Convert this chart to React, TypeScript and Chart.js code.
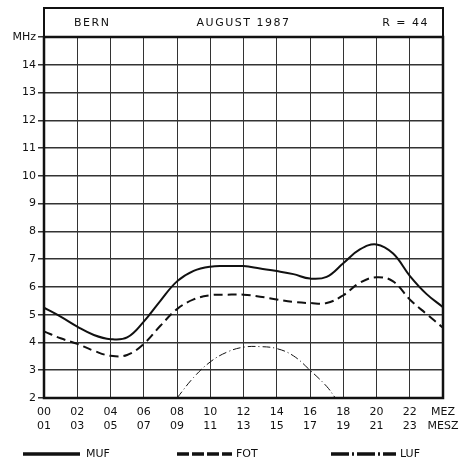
import React, { useEffect, useRef } from "react";
import { Chart, registerables } from "chart.js";

Chart.register(...registerables);

// ---- data ----
const HOURS = [0, 1, 2, 3, 4, 5, 6, 7, 8, 9, 10, 11, 12, 13, 14, 15, 16, 17, 18, 19, 20, 21, 22, 23, 24];
const MUF = [5.25, 4.93, 4.57, 4.27, 4.12, 4.18, 4.75, 5.5, 6.2, 6.58, 6.73, 6.75, 6.75, 6.66, 6.57, 6.46, 6.3, 6.36, 6.85, 7.35, 7.53, 7.2, 6.4, 5.75, 5.27];
const FOT = [4.4, 4.15, 3.95, 3.7, 3.52, 3.55, 3.95, 4.6, 5.2, 5.55, 5.7, 5.72, 5.72, 5.65, 5.55, 5.46, 5.42, 5.42, 5.7, 6.15, 6.35, 6.2, 5.55, 5.03, 4.53];
const LUF_HOURS = [8, 9, 10, 11, 12, 13, 14, 15, 16, 17, 17.5];
const LUF = [2.0, 2.74, 3.3, 3.65, 3.83, 3.85, 3.78, 3.52, 3.0, 2.42, 2.02];
const MEZ_LABELS = ["00", "02", "04", "06", "08", "10", "12", "14", "16", "18", "20", "22", "MEZ"];
const MESZ_LABELS = ["01", "03", "05", "07", "09", "11", "13", "15", "17", "19", "21", "23", "MESZ"];
const Y_UNIT = "MHz";
const TITLE_LEFT = "BERN";
const TITLE_CENTER = "AUGUST 1987";
const TITLE_RIGHT = "R = 44";
const SERIES_NAMES = ["MUF", "FOT", "LUF"];

const INK = "#111";
const FONT = '"DejaVu Sans", "Liberation Sans", sans-serif';

const decorPlugin = {
  id: "decor",
  afterDraw(chart: any) {
    const { ctx, chartArea } = chart;
    const { left, right, top, bottom } = chartArea;
    ctx.save();
    ctx.strokeStyle = INK;
    ctx.lineWidth = 2.5;
    // frame of plot
    ctx.strokeRect(left, top, right - left, bottom - top);
    // title box
    ctx.lineWidth = 2;
    ctx.strokeRect(left, 8, right - left, top - 8);
    ctx.fillStyle = INK;
    ctx.font = "11px " + FONT;
    (ctx as any).letterSpacing = "1.5px";
    ctx.textBaseline = "middle";
    const ty = (8 + top) / 2 + 1;
    ctx.textAlign = "left";
    ctx.fillText(TITLE_LEFT, left + 30, ty);
    ctx.textAlign = "center";
    ctx.fillText(TITLE_CENTER, (left + right) / 2, ty);
    ctx.textAlign = "right";
    ctx.fillText(TITLE_RIGHT, right - 14, ty);
    (ctx as any).letterSpacing = "0px";

    // legend
    const ly = 454;
    ctx.lineWidth = 3.5;
    ctx.textAlign = "left";
    const items = [
      { x0: 23, x1: 80, dash: [] as number[], tx: 86 },
      { x0: 177, x1: 232, dash: [12, 3], tx: 236 },
      { x0: 331, x1: 396, dash: [18, 3, 2, 3], tx: 400 },
    ];
    items.forEach((it, i) => {
      ctx.setLineDash(it.dash);
      ctx.beginPath();
      ctx.moveTo(it.x0, ly);
      ctx.lineTo(it.x1, ly);
      ctx.stroke();
      ctx.setLineDash([]);
      ctx.fillText(SERIES_NAMES[i], it.tx, ly);
    });
    ctx.restore();
  },
};

export default function App() {
  const ref = useRef<HTMLCanvasElement | null>(null);
  useEffect(() => {
    if (!ref.current) return;
    const chart = new Chart(ref.current, {
      type: "line",
      data: {
        datasets: [
          {
            label: SERIES_NAMES[0],
            data: HOURS.map((h, i) => ({ x: h, y: MUF[i] })),
            borderColor: INK,
            borderWidth: 2,
            pointRadius: 0,
            tension: 0.4,
            fill: false,
          },
          {
            label: SERIES_NAMES[1],
            data: HOURS.map((h, i) => ({ x: h, y: FOT[i] })),
            borderColor: INK,
            borderWidth: 2,
            borderDash: [9, 5],
            pointRadius: 0,
            tension: 0.4,
            fill: false,
          },
          {
            label: SERIES_NAMES[2],
            data: LUF_HOURS.map((h, i) => ({ x: h, y: LUF[i] })),
            borderColor: INK,
            borderWidth: 1,
            borderDash: [8, 3, 1, 3],
            pointRadius: 0,
            tension: 0.4,
            fill: false,
          },
        ],
      },
      options: {
        responsive: false,
        animation: false,
        devicePixelRatio: 1,
        layout: { padding: { top: 37, right: 30, left: 0, bottom: 0 } },
        plugins: {
          legend: { display: false },
          tooltip: { enabled: false },
        },
        scales: {
          x: {
            type: "linear",
            min: 0,
            max: 24,
            afterFit: (s: any) => {
              s.height = 64;
            },
            ticks: {
              stepSize: 2,
              autoSkip: false,
              maxRotation: 0,
              padding: 7,
              color: INK,
              font: { family: FONT, size: 11, lineHeight: 1.3 },
              callback: (v: any) => {
                const i = Math.round(Number(v) / 2);
                return [MEZ_LABELS[i], MESZ_LABELS[i]];
              },
            },
            grid: { color: "#333", lineWidth: 1, drawTicks: false },
            border: { display: false },
          },
          y: {
            type: "linear",
            min: 2,
            max: 15,
            afterFit: (s: any) => {
              s.width = 44;
            },
            ticks: {
              stepSize: 1,
              padding: 2,
              color: INK,
              font: { family: FONT, size: 11 },
              callback: (v: any) => (Number(v) === 15 ? Y_UNIT : String(v)),
            },
            grid: { color: "#333", lineWidth: 1.5, tickLength: 6 },
            border: { display: false },
          },
        },
      },
      plugins: [decorPlugin],
    });
    return () => chart.destroy();
  }, []);
  return (
    <div style={{ position: "fixed", left: 0, top: 0, width: 473, height: 462, background: "#fff" }}>
      <canvas ref={ref} width={473} height={462} />
    </div>
  );
}
